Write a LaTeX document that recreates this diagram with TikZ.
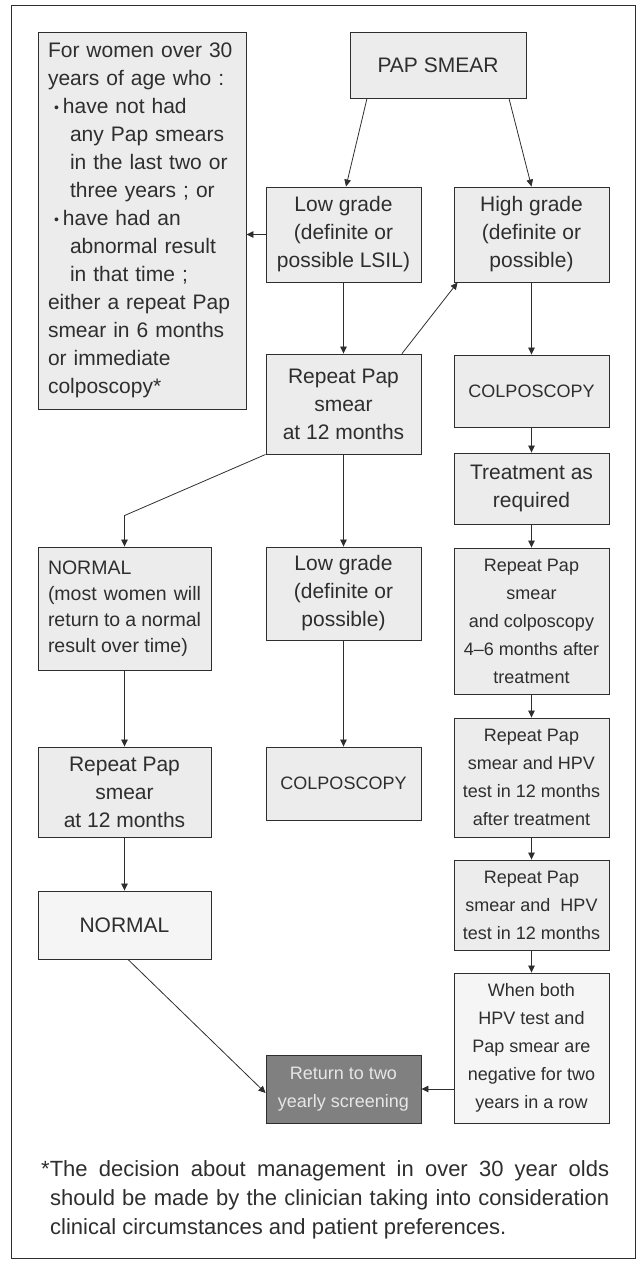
\documentclass[tikz,border=0pt]{standalone}
\usepackage{fontspec}
\setmainfont{Liberation Sans}
\usepackage{xcolor}
\definecolor{ink}{HTML}{2e2e2e}
\definecolor{boxgray}{HTML}{ececec}
\definecolor{lightbox}{HTML}{f5f5f5}
\definecolor{darkbox}{HTML}{808080}
\definecolor{paletext}{HTML}{e6e6e6}
\usetikzlibrary{arrows.meta, calc}
\newcommand\boxfont{\fontsize{21pt}{28pt}\selectfont}
\newcommand\narrowfont{\fontsize{18pt}{28pt}\selectfont}
\newcommand\notefont{\fontsize{19.5pt}{26pt}\selectfont}
\newcommand\footfont{\fontsize{22pt}{29pt}\selectfont}
\newcommand\dotitem{\hspace*{6pt}{\fontsize{14pt}{14pt}\selectfont\raisebox{1pt}{•}}\hspace{4pt}}
\tikzset{
	x = 1pt,
	y = -1pt,
	line width = .8pt,
	>={Triangle[length=7pt,width=6.5pt]},
	flowbox/.style={
		draw=ink,
		fill=boxgray,
		text=ink,
		font=\boxfont,
		align=center,
		inner sep=0pt,
		line width=.9pt
	},
	narrow box/.style={
		flowbox,
		font=\narrowfont
	},
	flow/.style={
		->,
		draw=ink,
		line width=.8pt
	}
}

\begin{document}
\begin{tikzpicture}
	\useasboundingbox (0,0) rectangle (640,1262);
	\draw[ink, line width=.8pt] (11,5) rectangle (635,1258);

	% left column
	\node[flowbox, minimum width=208pt, minimum height=377pt, text width=188pt, align=left] (crit) at (142,220.5)
		{For women over 30\\ years of age who :\\ \dotitem have not had\\ \hspace*{22pt}any Pap smears\\ \hspace*{22pt}in the last two or\\ \hspace*{22pt}three years ; or\\ \dotitem have had an\\ \hspace*{22pt}abnormal result\\ \hspace*{22pt}in that time ;\\ either a repeat Pap\\ smear in 6 months\\ or immediate\\ colposcopy*};
	\node[flowbox, minimum width=173pt, minimum height=123pt, align=left, font=\notefont] (normA) at (124.5,608.5)
		{NORMAL\\ \makebox[153pt][s]{(most women will}\\ \makebox[153pt][s]{return to a normal}\\ result over time)};
	\node[flowbox, minimum width=173pt, minimum height=90pt] (repL) at (124.5,792) {Repeat Pap\\smear\\at 12 months};
	\node[flowbox, fill=lightbox, minimum width=173pt, minimum height=68pt] (normB) at (124.5,925) {NORMAL};

	% middle column
	\node[flowbox, minimum width=176pt, minimum height=66pt] (pap) at (438,65) {PAP SMEAR};
	\node[flowbox, minimum width=155pt, minimum height=95pt] (low) at (343.5,234.5) {Low grade\\(definite or\\possible LSIL)};
	\node[flowbox, minimum width=155pt, minimum height=100pt] (rep) at (343.5,404) {Repeat Pap\\smear\\at 12 months};
	\node[flowbox, minimum width=155pt, minimum height=93pt] (lowB) at (343.5,593.5) {Low grade\\(definite or\\possible)};
	\node[narrow box, minimum width=155pt, minimum height=73pt] (colpM) at (343.5,783.5) {COLPOSCOPY};
	\node[narrow box, fill=darkbox, text=paletext, minimum width=155pt, minimum height=68pt] (back) at (343.5,1089) {Return to two\\yearly screening};

	% right column
	\node[flowbox, minimum width=155pt, minimum height=95pt] (high) at (531.5,234.5) {High grade\\(definite or\\possible)};
	\node[narrow box, minimum width=155pt, minimum height=72pt] (colpR) at (531.5,391) {COLPOSCOPY};
	\node[flowbox, minimum width=155pt, minimum height=71pt] (treat) at (531.5,488.5) {Treatment as\\required};
	\node[narrow box, minimum width=155pt, minimum height=146pt] (recheck) at (531.5,621) {Repeat Pap\\smear\\and colposcopy\\4–6 months after\\treatment};
	\node[narrow box, minimum width=155pt, minimum height=119pt] (hpvA) at (531.5,777.5) {Repeat Pap\\smear and HPV\\test in 12 months\\after treatment};
	\node[narrow box, minimum width=155pt, minimum height=90pt] (hpvB) at (531.5,905) {Repeat Pap\\smear and\ \ HPV\\test in 12 months};
	\node[narrow box, fill=lightbox, minimum width=155pt, minimum height=150pt] (both) at (531.5,1048) {When both\\HPV test and\\Pap smear are\\negative for two\\years in a row};

	% footnote
	\node[anchor=north west, align=left, inner sep=0pt, text=ink, font=\footfont] (foot) at (41,1160)
		{\makebox[568pt][s]{*The decision about management in over 30 year olds}\\ \hspace*{9pt}\makebox[559pt][s]{should be made by the clinician taking into consideration}\\ \hspace*{9pt}clinical circumstances and patient preferences.};

	% connectors
	\draw[flow] ([xshift=-71pt]pap.south) -- ([xshift=2.5pt]low.north);
	\draw[flow] ([xshift=71pt]pap.south) -- (high.north);
	\draw[flow] (low.west) -- (low.west -| crit.east);
	\draw[flow] (low.south) -- (rep.north);
	\draw[flow] ([xshift=58.5pt]rep.north) -- ([xshift=4pt]high.south west);
	\draw[flow] (high.south) -- (colpR.north);
	\draw[flow] (colpR.south) -- (treat.north);
	\draw[flow] (treat.south) -- (recheck.north);
	\draw[flow] (recheck.south) -- (hpvA.north);
	\draw[flow] (hpvA.south) -- (hpvB.north);
	\draw[flow] (hpvB.south) -- (both.north);
	\draw[flow] (rep.south west) -- ([yshift=31pt]normA.north) -- (normA.north);
	\draw[flow] (rep.south) -- (lowB.north);
	\draw[flow] (lowB.south) -- (colpM.north);
	\draw[flow] (normA.south) -- (repL.north);
	\draw[flow] (repL.south) -- (normB.north);
	\draw[flow] ([xshift=3.5pt]normB.south) -- ([yshift=-4pt]back.west);
	\draw[flow] (back.east -| both.west) -- (back.east);
\end{tikzpicture}
\end{document}
